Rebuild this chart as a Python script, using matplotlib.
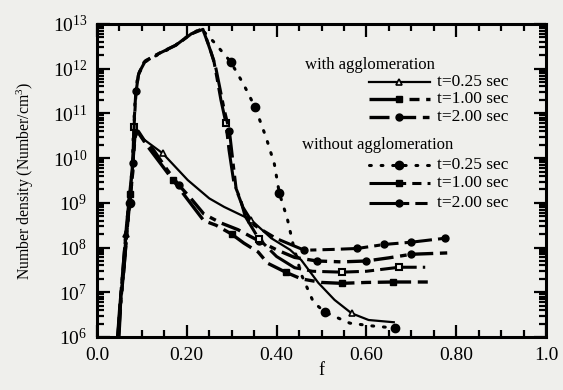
import numpy as np
import matplotlib
matplotlib.use("Agg")
import matplotlib.pyplot as plt
from matplotlib.ticker import MultipleLocator, FixedLocator, FixedFormatter, LogLocator

plt.rcParams["font.family"] = ["Liberation Serif", "DejaVu Serif"]
plt.rcParams["mathtext.fontset"] = "custom"
plt.rcParams["mathtext.rm"] = "Liberation Serif"
plt.rcParams["mathtext.it"] = "Liberation Serif:italic"

# ---- data (f, log10 of number density) ----
# with agglomeration
wa25_f = [0.045, 0.050, 0.056, 0.064, 0.072, 0.078, 0.083, 0.088, 0.100, 0.146, 0.202, 0.250,
          0.283, 0.343, 0.388, 0.430, 0.455, 0.493, 0.529, 0.567, 0.605, 0.661]
wa25_logn = [6.0, 6.6, 7.3, 8.3, 9.1, 9.7, 10.4, 10.65, 10.45, 10.11, 9.51, 9.10,
             8.91, 8.62, 8.21, 7.95, 7.72, 7.21, 6.83, 6.53, 6.38, 6.33]

wa100_f = [0.046, 0.051, 0.057, 0.065, 0.073, 0.079, 0.084, 0.090, 0.110, 0.140, 0.170, 0.200,
           0.238, 0.265, 0.300, 0.327, 0.359, 0.380, 0.420, 0.455, 0.500, 0.545, 0.600,
           0.660, 0.740]
wa100_logn = [6.0, 6.7, 7.4, 8.4, 9.2, 9.8, 10.45, 10.6, 10.3, 9.9, 9.5, 9.1,
              8.6, 8.5, 8.3, 8.1, 7.9, 7.65, 7.45, 7.30, 7.22, 7.20, 7.22,
              7.23, 7.23]

wa200_f = [0.047, 0.052, 0.058, 0.066, 0.074, 0.080, 0.085, 0.092, 0.105, 0.126, 0.157, 0.182,
           0.209, 0.238, 0.276, 0.314, 0.360, 0.400, 0.440, 0.490, 0.545, 0.600, 0.650,
           0.700, 0.780]
wa200_logn = [6.0, 6.8, 7.5, 8.5, 9.3, 9.9, 10.5, 10.6, 10.4, 10.18, 9.73, 9.40,
              9.10, 8.75, 8.55, 8.40, 8.15, 7.95, 7.78, 7.70, 7.68, 7.70, 7.77,
              7.85, 7.88]

# without agglomeration
na25_f = [0.047, 0.052, 0.058, 0.067, 0.073, 0.078, 0.081, 0.085, 0.090, 0.103, 0.135, 0.170,
          0.200, 0.231, 0.260, 0.298, 0.327, 0.352, 0.377, 0.395, 0.406, 0.424, 0.437,
          0.455, 0.482, 0.507, 0.538, 0.563, 0.610, 0.664]
na25_logn = [6.0, 6.7, 7.3, 8.4, 9.0, 9.5, 10.6, 11.3, 11.8, 12.13, 12.31, 12.49,
             12.71, 12.90, 12.60, 12.15, 11.64, 11.14, 10.45, 9.87, 9.22, 8.64, 8.06,
             7.40, 6.78, 6.56, 6.42, 6.31, 6.25, 6.20]

na100_f = [0.048, 0.053, 0.059, 0.068, 0.074, 0.079, 0.082, 0.086, 0.092, 0.105, 0.140, 0.175,
           0.205, 0.235, 0.247, 0.260, 0.276, 0.287, 0.294, 0.305, 0.320, 0.330, 0.360,
           0.400, 0.440, 0.480, 0.545, 0.600, 0.673, 0.731]
na100_logn = [6.0, 6.8, 7.4, 8.5, 9.1, 9.6, 10.7, 11.4, 11.85, 12.15, 12.35, 12.52,
              12.75, 12.90, 12.57, 12.19, 11.30, 10.79, 10.18, 9.44, 9.06, 8.70, 8.20,
              7.80, 7.55, 7.47, 7.45, 7.47, 7.56, 7.56]

na200_f = [0.049, 0.054, 0.060, 0.069, 0.075, 0.080, 0.083, 0.087, 0.093, 0.108, 0.145, 0.180,
           0.210, 0.236, 0.250, 0.265, 0.283, 0.295, 0.303, 0.310, 0.325, 0.350, 0.400,
           0.462, 0.530, 0.580, 0.640, 0.700, 0.776]
na200_logn = [6.0, 6.9, 7.5, 8.6, 9.2, 9.7, 10.8, 11.5, 11.9, 12.18, 12.38, 12.55,
              12.78, 12.88, 12.50, 12.00, 11.10, 10.60, 9.90, 9.30, 8.90, 8.50, 8.20,
              7.94, 7.96, 7.98, 8.07, 8.12, 8.21]

x_ticks = [0.0, 0.2, 0.4, 0.6, 0.8, 1.0]
x_ticklabels = ["0.0", "0.20", "0.40", "0.60", "0.80", "1.0"]
y_ticks = [1e6, 1e7, 1e8, 1e9, 1e10, 1e11, 1e12, 1e13]
y_ticklabels = ["$10^{6}$", "$10^{7}$", "$10^{8}$", "$10^{9}$",
                "$10^{10}$", "$10^{11}$", "$10^{12}$", "$10^{13}$"]

legend_with = ["t=0.25 sec", "t=1.00 sec", "t=2.00 sec"]
legend_without = ["t=0.25 sec", "t=1.00 sec", "t=2.00 sec"]

BG = "#efefec"

fig = plt.figure(figsize=(5.63, 3.90), dpi=100, facecolor=BG)
ax = fig.add_axes([0.1723, 0.1359, 0.7975, 0.8026], facecolor=BG)


def draw(f, logn, **kw):
    ax.plot(f, 10 ** np.array(logn), color="black", **kw)


# with agglomeration
draw(wa25_f, wa25_logn, lw=1.6, ls="-", marker="^", ms=4, mfc=BG, mew=1.2,
     markevery=[3, 9, 13, 19])
draw(wa100_f, wa100_logn, lw=2.4, dashes=[10, 2, 3, 2], marker="s", ms=5,
     markevery=[4, 10, 14, 18, 21, 23])
draw(wa200_f, wa200_logn, lw=2.4, dashes=[6, 2, 6, 2, 2, 2], marker="o", ms=5,
     markevery=[5, 11, 16, 19, 21, 23])
# without agglomeration
draw(na25_f, na25_logn, lw=2.2, ls=(0, (0.6, 3.2)), dash_capstyle="round", marker="o", ms=6,
     markevery=[4, 15, 17, 20, 25, 29])
draw(na100_f, na100_logn, lw=2.2, dashes=[12, 2, 3, 2], marker="s", ms=5, mfc=BG, mew=1.5,
     markevery=[6, 17, 22, 26, 28])
draw(na200_f, na200_logn, lw=2.2, dashes=[9, 2, 2, 2, 4, 2], marker="o", ms=5,
     markevery=[7, 17, 23, 25, 26, 27, 28])

ax.set_yscale("log")
ax.set_xlim(0, 1.0)
ax.set_ylim(y_ticks[0], y_ticks[-1])

ax.xaxis.set_major_locator(FixedLocator(x_ticks))
ax.xaxis.set_major_formatter(FixedFormatter(x_ticklabels))
ax.xaxis.set_minor_locator(MultipleLocator(0.05))
ax.yaxis.set_major_locator(FixedLocator(y_ticks))
ax.yaxis.set_major_formatter(FixedFormatter(y_ticklabels))
ax.yaxis.set_minor_locator(LogLocator(base=10, subs=np.arange(2, 10), numticks=10))
ax.yaxis.set_minor_formatter(FixedFormatter([]))

ax.tick_params(which="both", direction="in", top=True, right=True, width=1.6)
ax.tick_params(which="major", length=9, labelsize=14, pad=7)
ax.tick_params(which="minor", length=5)
for s in ax.spines.values():
    s.set_linewidth(2.2)

ax.set_xlabel("f", fontsize=13, labelpad=-1)
ax.set_ylabel("Number density (Number/cm$^3$)", fontsize=11.3, labelpad=12)

# hand-drawn legend like the original
ax.text(0.463, 0.869, "with agglomeration", transform=ax.transAxes, fontsize=12, va="center")
ax.text(0.457, 0.613, "without agglomeration", transform=ax.transAxes, fontsize=12, va="center")

styles = [
    dict(lw=1.6, ls="-", marker="^", ms=4, mfc=BG, mew=1.2),
    dict(lw=2.4, dashes=[10, 2, 3, 2], marker="s", ms=5),
    dict(lw=2.4, dashes=[6, 2, 6, 2, 2, 2], marker="o", ms=5),
    dict(lw=2.2, ls=(0, (0.6, 3.2)), dash_capstyle="round", marker="o", ms=6),
    dict(lw=2.2, dashes=[12, 2, 3, 2], marker="s", ms=5),
    dict(lw=2.2, dashes=[9, 2, 2, 2, 4, 2], marker="o", ms=5),
]
rows = [0.815, 0.760, 0.703, 0.550, 0.492, 0.428]
labels = legend_with + legend_without
for st, yy, lab in zip(styles, rows, labels):
    ax.plot([0.605, 0.672, 0.742], [yy, yy, yy], color="black", transform=ax.transAxes,
            markevery=[1], clip_on=False, **st)
    ax.text(0.758, yy, lab, transform=ax.transAxes, fontsize=12.5, va="center")

fig.savefig("out.png", dpi=100, facecolor=BG)
